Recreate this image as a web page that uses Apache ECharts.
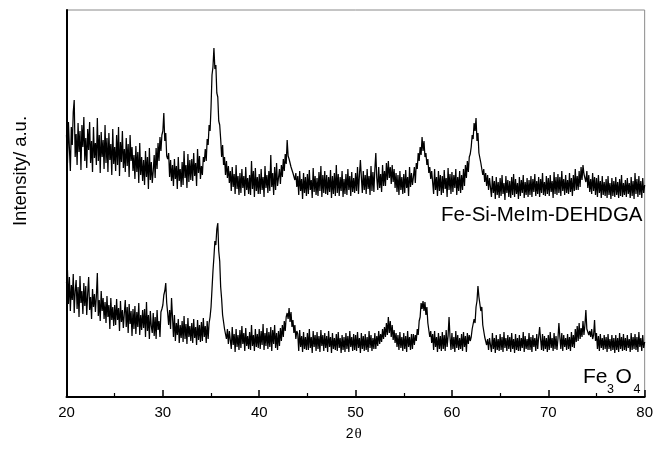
<!DOCTYPE html>
<html>
<head>
<meta charset="utf-8">
<script src="https://cdn.jsdelivr.net/npm/echarts@6/dist/echarts.min.js"></script>
<style>
html,body{margin:0;padding:0;background:#fff;}
#chart{width:656px;height:449px;}
</style>
</head>
<body>
<div id="chart"></div>
<script>
// 2-theta sampling of the scans (degrees)
const angleStart = 20;
const angleStep = 0.1;

// Fe-Si-MeIm-DEHDGA intensity (arbitrary units), 20.0 ... 80.0 deg
const intensityFeSiMeImDEHDGA = [
  262,234,275,249,226,270,252,285,297,240,
  263,232,274,245,266,227,272,250,280,236,
  259,229,268,247,275,234,256,225,270,239,
  254,232,279,236,262,224,265,240,257,228,
  272,234,259,225,264,237,253,222,268,233,
  250,226,262,232,270,221,255,235,266,229,
  248,225,259,231,253,220,262,236,250,226,
  242,218,251,225,245,214,254,222,240,216,
  237,212,246,220,240,208,249,217,235,214,
  226,242,219,249,228,254,236,260,246,262,
  266,284,256,264,241,238,244,220,237,216,
  232,211,238,218,231,208,240,216,228,210,
  235,212,246,219,232,209,243,215,237,217,
  238,216,244,221,234,211,248,224,241,218,
  231,222,240,235,248,236,258,252,272,266,
  290,322,330,349,328,332,304,300,276,272,
  258,240,252,232,240,222,236,219,231,214,
  226,206,230,210,223,203,232,208,221,202,
  224,204,228,209,221,201,230,207,219,203,
  222,202,236,208,226,200,229,206,220,203,
  223,203,228,207,220,200,231,209,222,204,
  226,206,242,210,224,202,230,207,234,211,
  219,228,213,232,220,238,226,243,233,257,
  241,238,236,230,228,224,222,217,224,210,
  221,202,226,206,218,198,224,204,220,201,
  223,203,227,207,217,199,229,205,221,202,
  219,201,225,206,231,200,222,204,226,203,
  222,202,220,205,227,199,221,203,224,201,
  232,204,223,201,220,206,226,200,218,203,
  223,202,228,207,221,201,225,205,219,204,
  224,206,230,203,222,237,220,204,226,207,
  222,203,228,208,221,202,231,206,225,205,
  228,244,219,207,230,209,223,205,232,211,
  226,211,234,217,236,219,230,213,232,215,
  228,209,224,205,222,202,226,207,220,203,
  223,204,227,209,220,201,230,210,224,212,
  220,230,214,234,228,244,236,250,242,260,
  246,256,240,244,232,238,224,230,218,226,
  224,203,228,207,220,201,226,206,222,202,
  221,204,227,208,219,200,229,207,223,203,
  225,205,222,209,228,202,220,206,226,204,
  222,207,228,211,232,219,236,225,240,243,
  250,262,258,274,266,279,256,264,244,246,
  234,232,222,228,215,224,211,222,207,219,
  218,200,221,204,216,198,220,202,215,199,
  219,201,222,203,214,197,221,204,217,200,
  216,199,220,202,223,200,218,203,214,198,
  220,201,217,204,222,199,215,202,219,200,
  217,202,221,200,218,205,223,201,216,203,
  220,200,218,204,224,202,215,201,221,203,
  219,201,222,205,216,199,225,203,220,202,
  223,204,220,201,226,206,218,202,222,204,
  217,203,224,205,219,201,222,206,228,207,
  221,207,226,210,230,217,232,223,224,215,
  226,209,222,205,218,203,224,206,220,202,
  219,200,222,204,216,199,221,202,215,201,
  218,199,221,202,214,198,219,201,216,200,
  220,202,215,199,218,201,222,200,214,202,
  217,200,219,203,214,199,220,201,216,198,
  224,203,218,200,221,202,216,199,219,204,
  212
];

// Fe3O4 intensity (arbitrary units), 20.0 ... 80.0 deg
const intensityFe3O4 = [
  114,127,93,120,86,112,97,123,84,106,
  117,88,110,80,121,94,106,83,114,91,
  111,82,104,120,87,100,78,108,90,103,
  85,101,124,81,97,76,106,86,99,78,
  95,74,101,80,92,68,99,77,90,71,
  92,72,98,77,89,66,96,75,87,69,
  84,97,70,90,64,93,73,86,61,88,
  68,91,63,85,70,94,62,82,67,87,
  69,88,60,95,66,82,58,86,71,64,
  84,61,80,58,87,67,76,60,85,88,
  92,102,106,114,94,84,72,87,68,99,
  80,60,82,56,74,62,78,54,72,59,
  76,55,81,58,73,53,79,60,71,56,
  74,54,78,59,70,52,77,57,72,55,
  75,56,79,60,71,54,76,58,74,80,
  90,108,126,140,156,152,168,174,146,136,
  110,98,82,80,68,70,58,68,53,66,
  66,48,70,52,63,45,68,50,62,47,
  67,49,71,53,64,46,69,51,61,48,
  65,47,72,51,62,46,68,50,63,49,
  68,48,66,52,73,47,64,51,69,48,
  65,50,70,46,67,53,72,49,64,47,
  66,51,69,56,72,60,76,66,80,84,
  78,89,75,85,70,77,64,72,58,66,
  63,46,67,50,61,45,65,48,60,47,
  64,47,68,49,60,44,66,50,62,46,
  65,48,61,45,67,51,62,46,64,49,
  61,45,66,50,60,44,64,48,59,47,
  63,46,65,49,59,44,62,47,60,45,
  64,48,61,45,66,50,60,46,63,47,
  62,46,65,49,59,44,64,48,61,46,
  63,47,60,45,66,49,62,46,59,48,
  64,48,61,51,66,53,63,55,68,58,
  70,60,74,62,80,64,76,60,72,57,
  67,54,64,50,62,47,65,49,60,46,
  64,48,61,45,66,50,60,47,63,48,
  63,52,62,56,68,62,76,80,94,88,
  96,86,95,82,90,74,76,60,66,54,
  63,47,66,50,60,45,64,48,61,46,
  65,48,62,46,67,50,61,80,60,47,
  64,48,60,45,66,49,62,47,59,48,
  63,46,65,50,61,45,64,53,62,56,
  60,68,66,78,74,90,96,111,100,102,
  86,90,72,74,60,62,52,58,47,59,
  61,45,64,48,59,44,62,47,58,46,
  63,47,60,45,65,49,59,46,62,48,
  60,45,64,48,58,44,63,47,59,46,
  62,46,59,49,65,45,61,48,58,47,
  64,47,60,45,62,50,59,46,63,48,
  60,70,58,47,63,46,61,48,59,45,
  62,47,65,49,59,46,64,48,61,47,
  58,74,60,48,64,46,62,50,59,47,
  63,48,60,46,65,50,62,49,68,55,
  71,56,74,58,69,60,76,62,72,87,
  68,70,62,66,60,68,58,62,77,56,
  64,48,61,46,63,49,59,47,62,48,
  60,45,63,48,58,46,62,47,59,44,
  62,47,59,45,64,48,60,46,63,47,
  59,46,62,49,58,45,64,47,60,48,
  63,47,60,45,65,50,59,46,62,49,
  55
];

const xTicks = [20, 30, 40, 50, 60, 70, 80];
const seriesNames = ['Fe-Si-MeIm-DEHDGA', 'Fe3O4'];

function pairs(vals) {
  return vals.map((v, i) => [+(angleStart + i * angleStep).toFixed(2), v]);
}

const sans = 'Liberation Sans';
const chart = echarts.init(document.getElementById('chart'), null, {renderer: 'canvas'});

function txt(text, x, y, size, align, family) {
  return {type: 'text', x: x, y: y,
    style: {text: text, x: 0, y: 0, align: align, verticalAlign: 'middle',
            fontSize: size, fontFamily: family || sans, fill: '#000'}};
}

const yTitle = txt('Intensity/ a.u.', 21, 171, 18.5, 'center');
yTitle.rotation = Math.PI / 2;

chart.setOption({
  animation: false,
  backgroundColor: '#ffffff',
  grid: {
    left: 66.5, right: 7.5, top: 10, bottom: 52,
    show: true, borderColor: '#8a8a8a', borderWidth: 1, backgroundColor: 'transparent'
  },
  xAxis: {
    type: 'value',
    min: xTicks[0], max: xTicks[xTicks.length - 1], interval: 10,
    axisLine: {show: true, onZero: false, lineStyle: {color: '#000', width: 2}},
    axisTick: {show: true, inside: true, length: 7, lineStyle: {color: '#000', width: 1.5}},
    minorTick: {show: true, splitNumber: 2, length: 4, lineStyle: {color: '#000', width: 1.2}},
    axisLabel: {color: '#000', fontSize: 15, fontFamily: sans, margin: 8},
    splitLine: {show: false}
  },
  yAxis: {
    type: 'value',
    min: 0, max: 387,
    axisLine: {show: true, onZero: false, lineStyle: {color: '#000', width: 2}},
    axisTick: {show: false},
    axisLabel: {show: false},
    splitLine: {show: false}
  },
  series: [
    {
      name: seriesNames[0], type: 'line', data: pairs(intensityFeSiMeImDEHDGA),
      showSymbol: false, symbol: 'none', sampling: null,
      lineStyle: {color: '#000', width: 1.25}, z: 3
    },
    {
      name: seriesNames[1], type: 'line', data: pairs(intensityFe3O4),
      showSymbol: false, symbol: 'none', sampling: null,
      lineStyle: {color: '#000', width: 1.25}, z: 3
    }
  ],
  graphic: [
    yTitle,
    txt('2', 353.5, 434, 14, 'right'),
    txt('θ', 354.5, 434, 15, 'left', 'Liberation Serif'),
    txt(seriesNames[0], 642.5, 215, 20.5, 'right'),
    txt('Fe', 583, 377, 21, 'left'),
    txt('3', 607, 390, 12.5, 'left'),
    txt('O', 615.5, 377, 21, 'left'),
    txt('4', 633.5, 390, 12.5, 'left')
  ]
});
</script>
</body>
</html>
